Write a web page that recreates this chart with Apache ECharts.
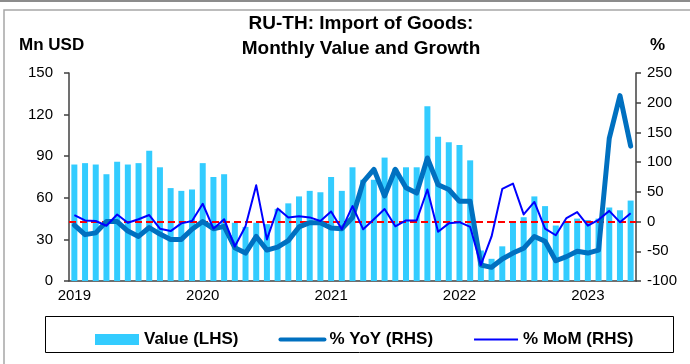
<!DOCTYPE html>
<html>
<head>
<meta charset="utf-8">
<style>
  html, body { margin: 0; padding: 0; background: #ffffff; }
  #chart { width: 690px; height: 364px; }
</style>
<script src="https://cdn.jsdelivr.net/npm/echarts@6/dist/echarts.min.js"></script>
</head>
<body>
<div id="chart"></div>
<script>
// Monthly import of goods, Russia from Thailand, Jan 2019 – May 2023
const months = [];
for (let y = 2019; y <= 2023; y++) {
  for (let m = 1; m <= 12; m++) {
    if (y === 2023 && m > 5) break;
    months.push(y + '-' + String(m).padStart(2, '0'));
  }
}

// Value, Mn USD (left axis)
const valueMnUsd = [
  84, 85, 84, 77, 86, 84, 85, 94, 82, 67, 65, 66,
  85, 75, 77, 42, 39, 42, 41, 52, 56, 61, 65, 64,
  75, 65, 82, 73, 73, 89, 81, 82, 82, 126, 104, 100,
  98, 87, 22, 16, 25, 43, 46, 61, 54, 40, 43, 45,
  44, 45, 53, 51, 58
];

// Year-on-year growth, % (right axis)
const yoyPct = [
  -6, -22, -19, 0, 0, -16, -25, -10, -21, -30, -30, -13,
  0, -12, -8, -44, -53, -25, -48, -43, -32, -9, -2, -2,
  -11, -12, 7, 67, 88, 43, 88, 57, 48, 107, 62, 54,
  34, 34, -73, -77, -63, -53, -45, -25, -33, -66, -59, -50,
  -53, -48, 140, 212, 127
];

// Month-on-month growth, % (right axis)
const momPct = [
  11, 2, 1, -7, 12, -2, 4, 11, -12, -16, -3, 1,
  30, -12, 4, -42, -8, 61, -30, 22, 7, 9, 7, 1,
  17, -13, 26, -13, 4, 21, -8, 2, 2, 54, -17, -3,
  -1, -9, -73, -25, 55, 64, 12, 33, -12, -23, 6, 16,
  -7, 3, 18, -1, 14
];

const leftTicks = { min: 0, max: 150, step: 30 };
const rightTicks = { min: -100, max: 250, step: 50 };

const FONT = "'Liberation Sans', Arial, sans-serif";
const isJanuary = (i) => i % 12 === 0;

const chart = echarts.init(document.getElementById('chart'), null, { renderer: 'canvas' });

chart.setOption({
  animation: false,
  backgroundColor: '#ffffff',
  title: {
    text: 'RU-TH: Import of Goods:\nMonthly Value and Growth',
    left: 356,
    top: 6,
    textAlign: 'center',
    textStyle: {
      fontFamily: FONT,
      fontSize: 19,
      fontWeight: 'bold',
      color: '#000000',
      lineHeight: 25
    }
  },
  grid: { left: 69, right: 54, top: 73, bottom: 83 },
  legend: {
    left: 90,
    top: 326,
    itemWidth: 44,
    itemHeight: 11,
    itemGap: 40,
    selectedMode: false,
    textStyle: { fontFamily: FONT, fontSize: 17, fontWeight: 'bold', color: '#000000' },
    data: [
      { name: 'Value (LHS)', icon: 'rect' },
      { name: '% YoY (RHS)', itemStyle: { opacity: 0 }, lineStyle: { width: 4, color: '#0070C0' } },
      { name: '% MoM (RHS)', itemStyle: { opacity: 0 }, lineStyle: { width: 2, color: '#0000FF' } }
    ]
  },
  xAxis: {
    type: 'category',
    data: months,
    boundaryGap: true,
    axisLine: { lineStyle: { color: '#404040', width: 1.5 } },
    axisTick: {
      interval: (i) => isJanuary(i),
      length: 5,
      lineStyle: { color: '#404040', width: 1.5 }
    },
    axisLabel: {
      interval: (i) => isJanuary(i),
      formatter: (v) => v.slice(0, 4),
      fontFamily: FONT,
      fontSize: 15,
      color: '#000000',
      margin: 7
    },
    splitLine: { show: false }
  },
  yAxis: [
    {
      type: 'value',
      min: leftTicks.min,
      max: leftTicks.max,
      interval: leftTicks.step,
      position: 'left',
      axisLine: { show: true, lineStyle: { color: '#404040', width: 1.5 } },
      axisTick: { show: true, length: 5, lineStyle: { color: '#404040', width: 1.5 } },
      axisLabel: { fontFamily: FONT, fontSize: 15, color: '#000000', margin: 16 },
      splitLine: { show: false }
    },
    {
      type: 'value',
      min: rightTicks.min,
      max: rightTicks.max,
      interval: rightTicks.step,
      position: 'right',
      axisLine: { show: true, lineStyle: { color: '#404040', width: 1.5 } },
      axisTick: { show: true, length: 5, lineStyle: { color: '#404040', width: 1.5 } },
      axisLabel: { fontFamily: FONT, fontSize: 15, color: '#000000', margin: 11 },
      splitLine: { show: false }
    }
  ],
  series: [
    {
      name: 'Value (LHS)',
      type: 'bar',
      yAxisIndex: 0,
      data: valueMnUsd,
      barWidth: 6,
      itemStyle: { color: '#33CCFF' },
      z: 1
    },
    {
      name: '% YoY (RHS)',
      type: 'line',
      yAxisIndex: 1,
      data: yoyPct,
      symbol: 'none',
      lineStyle: { color: '#0070C0', width: 5, join: 'round', cap: 'round' },
      itemStyle: { color: '#0070C0' },
      z: 3,
      markLine: {
        silent: true,
        z: 2,
        symbol: ['none', 'none'],
        label: { show: false },
        lineStyle: { color: '#FF0000', type: [7, 4], width: 2 },
        data: [{ yAxis: 0 }]
      }
    },
    {
      name: '% MoM (RHS)',
      type: 'line',
      yAxisIndex: 1,
      data: momPct,
      symbol: 'none',
      lineStyle: { color: '#0000FF', width: 2, join: 'round' },
      itemStyle: { color: '#0000FF' },
      z: 4
    }
  ],
  graphic: [
    // outer frame
    { type: 'line', shape: { x1: 0, y1: 1, x2: 690, y2: 1 }, style: { stroke: '#8c8c8c', lineWidth: 2 }, silent: true },
    { type: 'rect', shape: { x: 4, y: 10, width: 700, height: 370 }, style: { fill: 'none', stroke: '#a6a6a6', lineWidth: 1.5 }, silent: true },
    // legend box
    { type: 'rect', shape: { x: 45.5, y: 316.5, width: 628, height: 36 }, style: { fill: 'none', stroke: '#000000', lineWidth: 1 }, silent: true },
    // axis units
    { type: 'text', left: 19, top: 37, style: { text: 'Mn USD', font: 'bold 17px ' + FONT, fill: '#000000' } },
    { type: 'text', left: 650, top: 37, style: { text: '%', font: 'bold 17px ' + FONT, fill: '#000000' } }
  ]
});
</script>
</body>
</html>
